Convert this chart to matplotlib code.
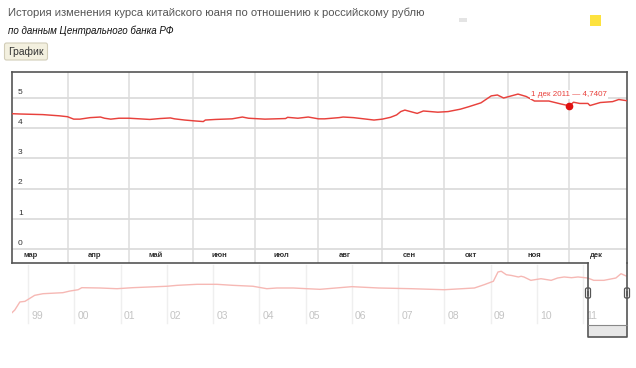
import matplotlib
matplotlib.use("Agg")
import matplotlib.pyplot as plt
import matplotlib.transforms as mtransforms
from matplotlib.patches import Rectangle, FancyBboxPatch
import pandas as pd

plt.rcParams['font.family'] = ['Liberation Sans', 'DejaVu Sans']

# курс юаня, 2011 (руб. за 1 юань)
dates = ['2011-03-05', '2011-03-09', '2011-03-20', '2011-03-28', '2011-04-01',
         '2011-04-04', '2011-04-07', '2011-04-12', '2011-04-17', '2011-04-19',
         '2011-04-22', '2011-04-26', '2011-05-01', '2011-05-06', '2011-05-11',
         '2011-05-16', '2011-05-21', '2011-05-23', '2011-05-28', '2011-06-02',
         '2011-06-06', '2011-06-07', '2011-06-12', '2011-06-20', '2011-06-25',
         '2011-06-28', '2011-07-06', '2011-07-16', '2011-07-17', '2011-07-22',
         '2011-07-27', '2011-08-01', '2011-08-04', '2011-08-11', '2011-08-13',
         '2011-08-18', '2011-08-28', '2011-09-01', '2011-09-05', '2011-09-08',
         '2011-09-10', '2011-09-12', '2011-09-18', '2011-09-21', '2011-09-28',
         '2011-10-03', '2011-10-09', '2011-10-13', '2011-10-19', '2011-10-24',
         '2011-10-27', '2011-10-30', '2011-11-06', '2011-11-10', '2011-11-14',
         '2011-11-21', '2011-11-27', '2011-12-01', '2011-12-03', '2011-12-06',
         '2011-12-10', '2011-12-11', '2011-12-16', '2011-12-22', '2011-12-25',
         '2011-12-29']
rates = [4.48, 4.47, 4.45, 4.41, 4.38,
         4.30, 4.30, 4.35, 4.37, 4.33,
         4.30, 4.33, 4.33, 4.31, 4.29,
         4.32, 4.34, 4.31, 4.27, 4.24,
         4.22, 4.27, 4.29, 4.31, 4.37,
         4.33, 4.30, 4.32, 4.36, 4.33,
         4.37, 4.31, 4.31, 4.35, 4.37,
         4.35, 4.27, 4.30, 4.36, 4.44,
         4.55, 4.60, 4.49, 4.57, 4.53,
         4.55, 4.63, 4.71, 4.84, 5.07,
         5.10, 5.00, 5.13, 5.05, 4.90,
         4.90, 4.80, 4.7407, 4.86, 4.82,
         4.82, 4.75, 4.85, 4.88, 4.95,
         4.91]

month_starts = ['2011-03-01', '2011-04-01', '2011-05-01', '2011-06-01', '2011-07-01',
                '2011-08-01', '2011-09-01', '2011-10-01', '2011-11-01', '2011-12-01']
month_labels = ['мар', 'апр', 'май', 'июн', 'июл', 'авг', 'сен', 'окт', 'ноя', 'дек']
y_ticks = [0, 1, 2, 3, 4, 5]

# навигатор: вся история
nav_years = [1998.65, 1998.71, 1998.82, 1998.93, 1999.14, 1999.32, 1999.75, 1999.90,
             2000.08, 2000.16, 2000.55, 2000.92, 2001.26, 2002.00, 2002.22, 2002.65,
             2003.08, 2003.43, 2003.86, 2004.16, 2004.38, 2004.73, 2005.03, 2005.31,
             2006.00, 2006.58, 2007.29, 2008.00, 2008.65, 2008.86, 2009.06, 2009.16,
             2009.23, 2009.34, 2009.45, 2009.60, 2009.66, 2009.72, 2009.87, 2010.09,
             2010.20, 2010.31, 2010.45, 2010.59, 2010.75, 2010.89, 2011.10, 2011.23,
             2011.45, 2011.71, 2011.82, 2011.93]
nav_rates = [1.15, 1.41, 2.20, 2.26, 2.85, 3.01, 3.11, 3.27,
             3.40, 3.60, 3.57, 3.50, 3.60, 3.74, 3.83, 3.93,
             3.93, 3.83, 3.74, 3.50, 3.57, 3.57, 3.50, 3.44,
             3.70, 3.57, 3.50, 3.40, 3.57, 3.89, 4.23, 5.14,
             5.21, 4.87, 4.80, 4.65, 4.72, 4.65, 4.32, 4.48,
             4.40, 4.32, 4.55, 4.65, 4.58, 4.65, 4.55, 4.32,
             4.32, 4.55, 4.97, 4.75]
year_ticks = list(range(1999, 2012))
year_labels = ['99', '00', '01', '02', '03', '04', '05', '06', '07', '08', '09', '10', '11']

point_date = '2011-12-01'
point_value = 4.7407
point_label = '1 дек 2011 — 4,7407'

title = 'История изменения курса китайского юаня по отношению к российскому рублю'
subtitle = 'по данным Центрального банка РФ'

W, H = 636, 368
fig = plt.figure(figsize=(W / 100, H / 100), dpi=100)
fig.patch.set_facecolor('white')


def px(x0, y0, x1, y1):
    return [x0 / W, 1 - y1 / H, (x1 - x0) / W, (y1 - y0) / H]


red = '#e8413c'
grid = '#dcdcdc'
frame = '#555555'

# основной график
ax = fig.add_axes(px(12, 72, 627, 263))
ax.plot(pd.to_datetime(dates), rates, color=red, lw=1.05, zorder=3)
ax.set_xlim(pd.Timestamp('2011-03-05'), pd.Timestamp('2011-12-29'))
ax.set_ylim(-0.464, 5.861)
for v in y_ticks:
    ax.axhline(v, color=grid, lw=1.3, zorder=1)
for m in month_starts:
    ax.axvline(pd.Timestamp(m), color=grid, lw=1.1, zorder=1)
ax.set_xticks([])
ax.set_yticks([])
for s in ['left', 'top', 'right']:
    ax.spines[s].set_color(frame)
    ax.spines[s].set_linewidth(1.2)
ax.spines['bottom'].set_visible(False)

trans = mtransforms.blended_transform_factory(ax.transAxes, ax.transData)
for v in y_ticks:
    ax.text(6 / 615, v + 0.07, str(v), transform=trans, fontsize=6,
            color='#333333', ha='left', va='bottom')
for m, lab in zip(month_starts, month_labels):
    ax.text(pd.Timestamp(m) + pd.Timedelta(days=13), -0.22, lab, fontsize=5.5,
            fontweight='bold', color='#333333', ha='center', va='center', clip_on=True)

ax.plot(pd.Timestamp(point_date), point_value, 'o', color='#e01010', ms=4.5, zorder=5)
ax.annotate(point_label, (pd.Timestamp(point_date), point_value), xytext=(0, 8),
            textcoords='offset points', ha='center', va='center', fontsize=5.8,
            color=red, zorder=4, bbox=dict(fc='white', ec='none', pad=0.8))

# навигатор
nav = fig.add_axes(px(12, 263, 627, 337))
nav.set_xlim(1998.65, 2011.95)
nav.set_ylim(-1.235, 6.02)
nav.axis('off')
for yr, lab in zip(year_ticks, year_labels):
    nav.axvline(yr, ymin=0.19, ymax=0.97, color='#efefef', lw=1.0, zorder=1)
    nav.annotate(lab, (yr, 0.82), xytext=(2.2, 0), textcoords='offset points',
                 fontsize=7.5, color='#c4c4c4', ha='left', va='center')
nav.plot(nav_years, nav_rates, color='#f6b8b4', lw=1.0, zorder=2)

# подписи, кнопка и рамки
ov = fig.add_axes([0, 0, 1, 1])
ov.set_xlim(0, W)
ov.set_ylim(H, 0)
ov.axis('off')

ov.text(8, 13, title, fontsize=8.1, color='#555555', va='center', ha='left')
ov.text(8, 31, subtitle, fontsize=7.0, style='italic', color='#111111', va='center', ha='left')
ov.add_patch(FancyBboxPatch((4.5, 43), 43, 17, boxstyle='round,pad=0,rounding_size=2',
                            fc='#f3f0df', ec='#d2cdb8', lw=0.8))
ov.text(26, 51.5, 'График', fontsize=7.5, color='#333333', ha='center', va='center')

ov.add_patch(Rectangle((459, 18), 8, 4, fc='#e4e4e4', ec='none'))
ov.add_patch(Rectangle((590, 15), 11, 11, fc='#fde23e', ec='none'))

ov.plot([12, 588], [263, 263], color=frame, lw=1.2)
ov.plot([588, 588, 627, 627], [263, 337, 337, 263], color=frame, lw=1.2)
ov.add_patch(Rectangle((588.5, 325), 38, 11.5, fc='#e7e7e7', ec='none'))
ov.plot([588, 627], [325, 325], color='#888888', lw=0.8)
for hx in (585.5, 624.5):
    ov.add_patch(FancyBboxPatch((hx, 288), 5, 10, boxstyle='round,pad=0,rounding_size=1.5',
                                fc='white', ec='#555555', lw=0.9))
    ov.add_patch(Rectangle((hx + 1.7, 290.5), 1.6, 5, fc='#777777', ec='none'))

fig.savefig('out.png', dpi=100)
